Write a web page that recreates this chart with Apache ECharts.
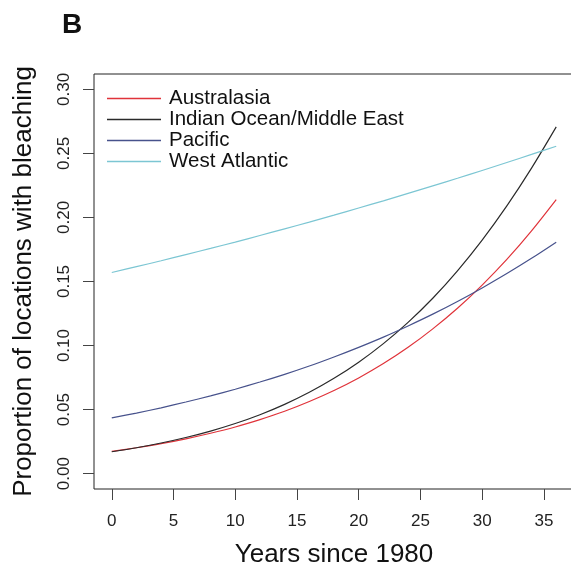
<!DOCTYPE html>
<html>
<head>
<meta charset="utf-8">
<script src="https://cdn.jsdelivr.net/npm/echarts@6/dist/echarts.min.js"></script>
<style>
html,body{margin:0;padding:0;background:#fff;}
#chart{width:571px;height:576px;}
</style>
</head>
<body>
<div id="chart"></div>
<script>
// Data
var years = [0, 2, 4, 6, 8, 10, 12, 14, 16, 18, 20, 22, 24, 26, 28, 30, 32, 34, 36];
var australasia = [0.0174, 0.0202, 0.0234, 0.0272, 0.0315, 0.0364, 0.0422, 0.0487, 0.0563, 0.0649, 0.0747, 0.0859, 0.0986, 0.1130, 0.1291, 0.1472, 0.1672, 0.1895, 0.2139];
var indianOcean = [0.0171, 0.0202, 0.0239, 0.0282, 0.0332, 0.0391, 0.0460, 0.0541, 0.0635, 0.0744, 0.0870, 0.1015, 0.1181, 0.1369, 0.1583, 0.1823, 0.2090, 0.2385, 0.2707];
var pacific = [0.0435, 0.0473, 0.0514, 0.0559, 0.0607, 0.0659, 0.0715, 0.0775, 0.0840, 0.0911, 0.0986, 0.1066, 0.1153, 0.1245, 0.1344, 0.1450, 0.1562, 0.1681, 0.1807];
var westAtlantic = [0.1570, 0.1616, 0.1662, 0.1710, 0.1758, 0.1808, 0.1859, 0.1911, 0.1964, 0.2018, 0.2074, 0.2130, 0.2188, 0.2247, 0.2306, 0.2367, 0.2429, 0.2492, 0.2556];
var seriesNames = ['Australasia', 'Indian Ocean/Middle East', 'Pacific', 'West Atlantic'];
var xTicks = [0, 5, 10, 15, 20, 25, 30, 35];
var yTicks = [0, 0.05, 0.10, 0.15, 0.20, 0.25, 0.30];

var colors = ['#E0333A', '#2a2a2a', '#47528C', '#7CC6D3'];
var FONT = "'Liberation Sans', Arial, Helvetica, sans-serif";

function pairs(arr) { return years.map(function (y, i) { return [y, arr[i]]; }); }
var allData = [australasia, indianOcean, pacific, westAtlantic];

var chart = echarts.init(document.getElementById('chart'), null, {renderer: 'canvas'});
chart.setOption({
  animation: false,
  backgroundColor: '#ffffff',
  textStyle: {fontFamily: FONT},
  title: {
    text: 'B', left: 62, top: 11, padding: 0,
    textStyle: {fontFamily: FONT, fontWeight: 'bold', fontSize: 28, color: '#111'}
  },
  grid: {
    left: 94, top: 74, width: 480, height: 415,
    outerBoundsMode: 'none', containLabel: false,
    show: true, borderColor: '#222', borderWidth: 1, backgroundColor: 'transparent'
  },
  legend: {
    orient: 'vertical', left: 107, top: 88, padding: 0, itemGap: 0,
    itemWidth: 54, itemHeight: 1.4, icon: 'rect',
    data: seriesNames,
    textStyle: {fontFamily: FONT, fontSize: 20.5, color: '#111', lineHeight: 19.6, padding: [0, 0, 0, 3]}
  },
  xAxis: {
    type: 'value', min: -1.44, max: 37.44,
    name: 'Years since 1980', nameLocation: 'middle', nameGap: 53,
    nameTextStyle: {fontFamily: FONT, fontSize: 26, color: '#111'},
    axisLine: {show: false, onZero: false},
    splitLine: {show: false},
    axisTick: {show: true, inside: false, length: 11, customValues: xTicks, lineStyle: {color: '#444', width: 1}},
    axisLabel: {customValues: xTicks, margin: 24, fontFamily: FONT, fontSize: 17, color: '#222',
      formatter: function (v) { return String(v); }}
  },
  yAxis: {
    type: 'value', min: -0.012, max: 0.312,
    name: 'Proportion of locations with bleaching', nameLocation: 'middle', nameGap: 57,
    nameTextStyle: {fontFamily: FONT, fontSize: 26, color: '#111'},
    axisLine: {show: false, onZero: false},
    splitLine: {show: false},
    axisTick: {show: true, inside: false, length: 11, customValues: yTicks, lineStyle: {color: '#444', width: 1}},
    axisLabel: {customValues: yTicks, rotate: 90, margin: 21, fontFamily: FONT, fontSize: 17, color: '#222',
      hideOverlap: false,
      formatter: function (v) { return v.toFixed(2); }}
  },
  series: seriesNames.map(function (n, i) {
    return {
      name: n, type: 'line', data: pairs(allData[i]),
      smooth: 0.3, showSymbol: false, symbol: 'none',
      color: colors[i],
      lineStyle: {width: 1.2, color: colors[i]},
      z: 2 + i
    };
  })
});
</script>
</body>
</html>
